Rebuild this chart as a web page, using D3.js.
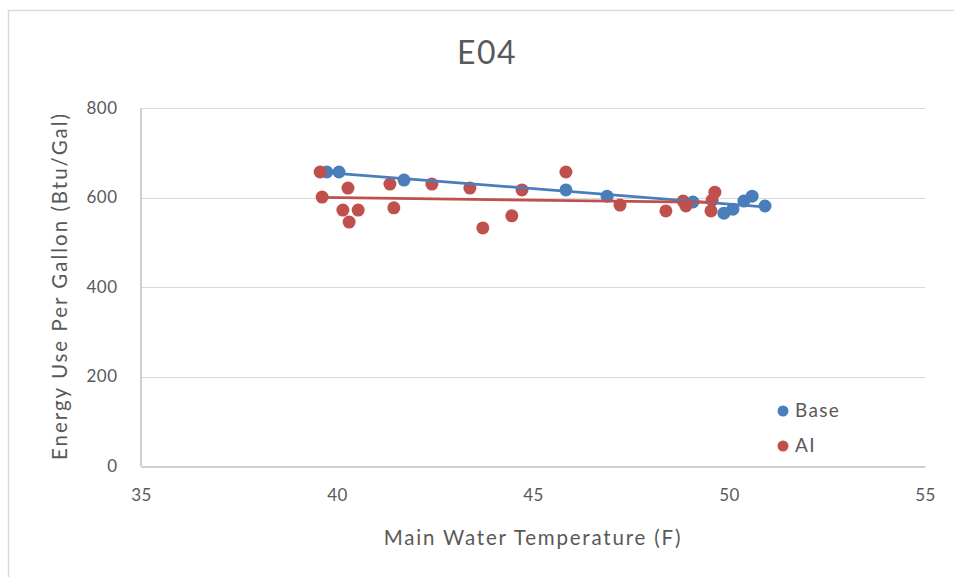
<!DOCTYPE html>
<html>
<head>
<meta charset="utf-8">
<script src="https://cdn.jsdelivr.net/npm/d3@7"></script>
<style>
  html, body { margin: 0; padding: 0; background: #fff; }
  svg { display: block; font-family: Lato, "Open Sans", sans-serif; }
</style>
</head>
<body>
<svg id="chart" width="954" height="577"></svg>
<script>
// Main water temperature (F) and energy use per gallon (Btu/Gal)
const baseTemp   = [39.74, 40.05, 41.71, 45.84, 46.89, 49.08, 49.87, 50.10, 50.38, 50.59, 50.92];
const baseEnergy = [657,   657,   639,   617,   603,   590,   565,   574,   592,   603,   581];

const aiTemp   = [39.57, 39.62, 40.28, 40.15, 40.54, 40.31, 41.35, 41.45, 42.42, 43.39, 43.72,
                  44.46, 44.72, 45.84, 47.22, 48.39, 48.83, 48.90, 49.54, 49.57, 49.64];
const aiEnergy = [657,   601,   621,   572,   572,   545,   630,   577,   630,   621,   532,
                  559,   617,   657,   583,   570,   592,   581,   570,   594,   612];

const xTicks = [35, 40, 45, 50, 55];
const yTicks = [0, 200, 400, 600, 800];

const seriesNames = ["Base", "AI"];
const colors = { Base: "#4A7EBB", AI: "#C0504D" };

const series = [
  { name: "Base", xs: baseTemp, ys: baseEnergy },
  { name: "AI",   xs: aiTemp,   ys: aiEnergy }
];

const svg = d3.select("#chart");
const margin = { left: 141, right: 29, top: 108, bottom: 111 };
const W = 954, H = 577;

const x = d3.scaleLinear().domain([35, 55]).range([margin.left, W - margin.right]);
const y = d3.scaleLinear().domain([0, 800]).range([H - margin.bottom, margin.top]);

// chart frame
svg.append("path")
  .attr("d", `M8.5,${H} V10.5 H${W}`)
  .attr("fill", "none").attr("stroke", "#D9D9D9").attr("stroke-width", 1.5);

// title
svg.append("text")
  .attr("x", 487).attr("y", 64)
  .attr("text-anchor", "middle")
  .attr("font-size", 32).attr("fill", "#595959")
  .attr("letter-spacing", 1.5)
  .text("E04");

// horizontal gridlines
svg.append("g").selectAll("line")
  .data(yTicks.filter(d => d > 0))
  .join("line")
  .attr("x1", x(35)).attr("x2", x(55))
  .attr("y1", d => Math.round(y(d)) + 0.5).attr("y2", d => Math.round(y(d)) + 0.5)
  .attr("stroke", "#D9D9D9").attr("stroke-width", 1);

// axes
const xAxis = d3.axisBottom(x).tickValues(xTicks).tickSize(0).tickPadding(22);
const yAxis = d3.axisLeft(y).tickValues(yTicks).tickSize(0).tickPadding(23);

const gx = svg.append("g")
  .attr("transform", `translate(0,${Math.round(y(0)) + 0.5})`)
  .call(xAxis);
const gy = svg.append("g")
  .attr("transform", `translate(${Math.round(x(35)) - 0.5},0)`)
  .call(yAxis);

[gx, gy].forEach(g => {
  g.select(".domain").attr("stroke", "#BFBFBF").attr("stroke-width", 1.5);
  g.selectAll("text")
    .attr("font-family", "Lato, 'Open Sans', sans-serif")
    .attr("font-size", 17).attr("fill", "#595959")
    .attr("letter-spacing", 0.5);
});

// axis titles
svg.append("text")
  .attr("x", 533).attr("y", 545)
  .attr("text-anchor", "middle")
  .attr("font-size", 20.5).attr("fill", "#595959")
  .attr("letter-spacing", 1.8)
  .text("Main Water Temperature  (F)");

svg.append("text")
  .attr("transform", "translate(67,286) rotate(-90)")
  .attr("text-anchor", "middle")
  .attr("font-size", 20.5).attr("fill", "#595959")
  .attr("letter-spacing", 2)
  .text("Energy Use Per Gallon (Btu/Gal)");

// least-squares trendline for a series
function fit(xs, ys) {
  const n = xs.length;
  const mx = d3.mean(xs), my = d3.mean(ys);
  let sxy = 0, sxx = 0;
  for (let i = 0; i < n; i++) {
    sxy += (xs[i] - mx) * (ys[i] - my);
    sxx += (xs[i] - mx) ** 2;
  }
  const b = sxy / sxx, a = my - b * mx;
  const [x0, x1] = d3.extent(xs);
  return [[x0, a + b * x0], [x1, a + b * x1]];
}

const line = d3.line().x(d => x(d[0])).y(d => y(d[1]));
const plot = svg.append("g");

// points first, trend lines over them
series.forEach(s => {
  plot.append("g").selectAll("circle")
    .data(s.xs.map((v, i) => [v, s.ys[i]]))
    .join("circle")
    .attr("cx", d => x(d[0])).attr("cy", d => y(d[1]))
    .attr("r", 6.5)
    .attr("fill", colors[s.name]);
});
series.forEach(s => {
  plot.append("path")
    .datum(fit(s.xs, s.ys))
    .attr("d", line)
    .attr("fill", "none")
    .attr("stroke", colors[s.name])
    .attr("stroke-width", 2.75);
});

// legend
const legend = svg.append("g");
seriesNames.forEach((name, i) => {
  const ly = 411 + i * 35;
  legend.append("circle")
    .attr("cx", 783).attr("cy", ly).attr("r", 5.5)
    .attr("fill", colors[name]);
  legend.append("text")
    .attr("x", 795).attr("y", ly + 6)
    .attr("font-size", 19).attr("fill", "#595959")
    .attr("letter-spacing", 1.3)
    .text(name);
});
</script>
</body>
</html>
